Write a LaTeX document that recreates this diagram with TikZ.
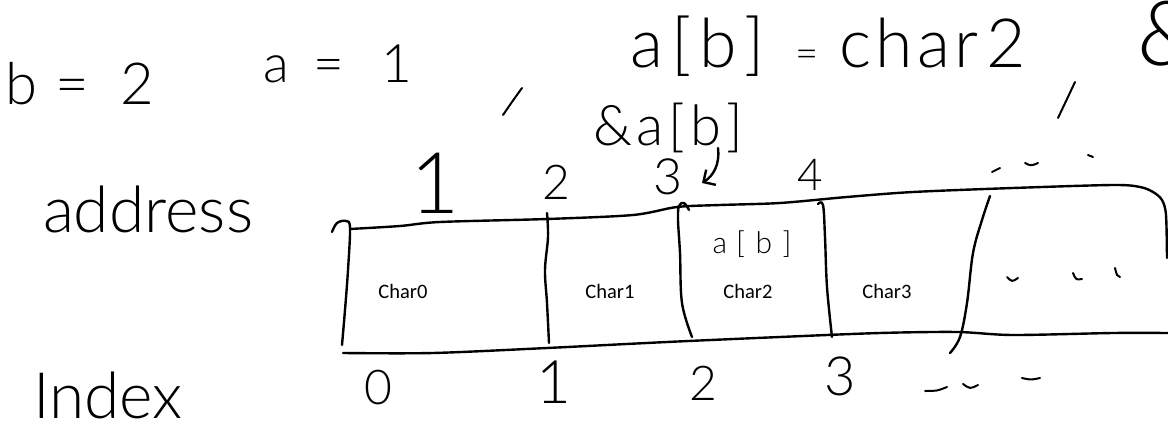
\documentclass[tikz,border=0pt]{standalone}
\usepackage{fontspec}
\newfontfamily\hand{Lato Light}
\newfontfamily\calib{Carlito}
\usetikzlibrary{arrows.meta}
\newcommand\fsz[1]{\fontsize{#1}{#1}\selectfont}
\tikzset{
  hw/.style={font=\hand, inner sep=0pt, outer sep=0pt},
  celltext/.style={font=\calib\fontsize{20.5}{24}\selectfont, inner sep=0pt},
  ink/.style={line width=2.4pt, line cap=round, line join=round},
  thinink/.style={line width=2pt, line cap=round, line join=round},
}
\begin{document}
\begin{tikzpicture}[x=1pt,y=-1pt]
\useasboundingbox (0,0) rectangle (1168,425);
\clip (0,0) rectangle (1168,425);

% top formulas
\node[hw, anchor=base] (beq) at (80,105) {\fsz{58}b\hspace{0.3em}=\hspace{0.55em}2};
\node[hw, anchor=base] (aeq) at (338,83) {\fsz{53}a\hspace{0.45em}=\hspace{0.7em}1};
\node[hw, anchor=base west] (abeq) at (630,68) {\fsz{68}a\hspace{0.12em}[\hspace{0.12em}b\hspace{0.12em}]\hspace{0.45em}{\fsz{40}=}\hspace{0.3em}c\hspace{0.06em}h\hspace{0.06em}a\hspace{0.06em}r\hspace{0.12em}2};
\node[hw, anchor=base west] (amp) at (1137,66) {\fsz{90}\&};
\draw[thinink] (522,88) .. controls (514,99) .. (503,115);
\draw[thinink] (1075,82) .. controls (1067,99) .. (1058,118);

% &a[b] and arrow
\node[hw, anchor=base west] (addr) at (593,146) {\fsz{56}\&\hspace{0.08em}a\hspace{0.08em}[\hspace{0.1em}b\hspace{0.1em}]};
\coordinate (arrs) at (718,148);
\coordinate (arre) at (702,183);
\draw[ink, -{Straight Barb[length=9pt,width=18pt]}] (arrs) .. controls (720,165) and (713,176) .. (arre);

% row labels
\node[hw, anchor=base west] (address) at (43,232) {\fsz{64}address};
\node[hw, anchor=base west] (index) at (33,418) {\fsz{64}Index};

% address numbers
\node[hw] (ad1) at (435,183) {\fsz{85}1};
\node[hw] (ad2) at (556,182) {\fsz{48}2};
\node[hw] (ad3) at (668,177) {\fsz{50}3};
\node[hw] (ad4) at (810,175) {\fsz{44}4};
\draw[thinink] (992,172) -- (1000,168);
\draw[thinink] (1025,163) .. controls (1031,166) .. (1038,163);
\draw[thinink] (1088,155) -- (1093,157);

% index numbers
\node[hw] (ix0) at (378,388) {\fsz{48}0};
\node[hw] (ix1) at (554,382) {\fsz{60}1};
\node[hw] (ix2) at (703,383) {\fsz{48}2};
\node[hw] (ix3) at (840,376) {\fsz{54}3};
\draw[thinink] (925,391) .. controls (937,391) .. (947,387);
\draw[thinink] (963,384) .. controls (970,389) .. (978,385);
\draw[thinink] (1022,378) .. controls (1031,380) .. (1040,378);

% memory strip
\draw[ink] plot[smooth, tension=0.6] coordinates {(332,232) (337,223) (346,221) (350,228) (348,270) (345,310) (342,345)};
\draw[ink] plot[smooth, tension=0.5] coordinates {(350,229) (400,226) (440,222) (547,219) (633,215) (677,207) (720,205) (780,203) (847,197) (913,192) (1013,188) (1113,185) (1140,187) (1153,192) (1162,200) (1166,215) (1167,258)};
\draw[ink] plot[smooth, tension=0.5] coordinates {(343,353) (433,353) (547,348) (667,342) (780,337) (880,333) (957,332) (1013,335) (1113,333) (1168,333)};
\draw[ink] plot[smooth, tension=0.6] coordinates {(547,213) (548,237) (545,270) (547,303) (549,343)};
\draw[ink] plot[smooth, tension=0.6] coordinates {(689,210) (684,203) (679,206) (678,220) (680,253) (682,303) (692,337)};
\draw[ink] plot[smooth, tension=0.6] coordinates {(818,204) (823,205) (825,237) (827,287) (832,337)};
\draw[ink] plot[smooth, tension=0.6] coordinates {(990,196) (982,220) (973,253) (967,303) (960,337) (950,353)};

% cell contents
\node[celltext] (c0) at (403,291) {Char0};
\node[celltext] (c1) at (610,291) {Char1};
\node[celltext] (c2) at (748,291) {Char2};
\node[celltext] (c3) at (887,291) {Char3};
\node[hw] (cab) at (752,244) {\fsz{30}a\hspace{0.3em}[\hspace{0.35em}b\hspace{0.35em}]};
\draw[thinink] (1007,277) .. controls (1012,282) .. (1018,278);
\draw[thinink] (1073,273) .. controls (1076,280) .. (1082,279);
\draw[thinink] (1115,268) .. controls (1117,276) .. (1120,277);
\end{tikzpicture}
\end{document}
